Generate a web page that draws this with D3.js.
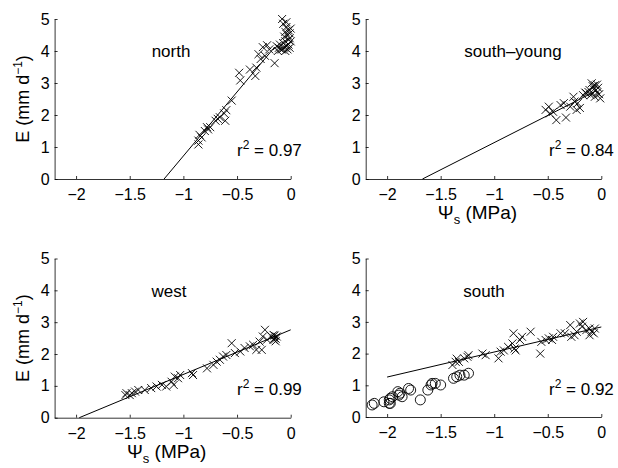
<!DOCTYPE html>
<html>
<head>
<meta charset="utf-8">
<script src="https://cdn.jsdelivr.net/npm/d3@7"></script>
<style>
  body { margin: 0; background: #fff; }
  text { font-family: "Liberation Sans", Arial, Helvetica, sans-serif; fill: #000; }
</style>
</head>
<body>
<svg id="chart" width="618" height="468"></svg>
<script>
// values: [psi_s (MPa), E (mm/d)]
const xTicks = [-2, -1.5, -1, -0.5, 0];
const yTicks = [0, 1, 2, 3, 4, 5];

const northPts = [[-0.86,1.08],[-0.86,1.20],[-0.85,1.38],[-0.83,1.30],[-0.80,1.50],[-0.78,1.62],
  [-0.77,1.55],[-0.75,1.62],[-0.70,1.82],[-0.68,1.88],[-0.66,1.93],[-0.62,2.05],[-0.61,1.82],
  [-0.60,2.15],[-0.55,2.45],[-0.48,3.32],[-0.47,3.08],[-0.38,3.42],[-0.33,3.22],[-0.32,3.48],
  [-0.30,3.90],[-0.28,3.75],[-0.26,4.12],[-0.24,3.85],[-0.22,4.18],[-0.20,4.05],[-0.15,3.62],
  [-0.13,4.15],[-0.11,4.10],[-0.10,4.20],[-0.09,4.05],[-0.08,5.00],[-0.07,4.85],[-0.07,4.25],
  [-0.06,4.10],[-0.06,4.45],[-0.05,4.60],[-0.05,4.30],[-0.04,4.75],[-0.04,4.15],[-0.03,4.50],
  [-0.03,4.05],[-0.02,4.65],[-0.02,4.35],[-0.02,4.20],[-0.01,4.55],[-0.01,4.40],[-0.01,4.10],
  [0.00,4.70],[0.00,4.30],[-0.05,4.00],[-0.08,4.05],[-0.12,4.00],[-0.04,4.90]];
const northFit = [[-1.18,0],[-0.15,4.12]];

const youngPts = [[-0.52,2.16],[-0.48,2.05],[-0.49,2.26],[-0.45,2.10],[-0.42,1.84],[-0.33,1.92],
  [-0.38,2.31],[-0.35,2.37],[-0.29,2.26],[-0.26,2.57],[-0.25,2.42],[-0.23,2.16],[-0.22,2.37],
  [-0.20,2.22],[-0.17,2.62],[-0.14,2.68],[-0.11,2.78],[-0.09,2.99],[-0.08,2.90],[-0.06,2.57],
  [-0.05,2.78],[-0.04,2.70],[-0.01,2.52],[-0.06,2.93],[-0.10,2.62],[-0.07,2.80],[-0.03,2.85],
  [-0.02,2.65],[-0.12,2.72],[-0.04,2.95],[-0.08,2.68],[-0.15,2.70]];
const youngFit = [[-1.67,0],[-0.05,2.75]];

const westPts = [[-1.54,0.71],[-1.53,0.77],[-1.50,0.71],[-1.48,0.77],[-1.45,0.82],[-1.42,0.87],
  [-1.36,0.87],[-1.30,0.93],[-1.25,0.98],[-1.20,1.03],[-1.16,0.98],[-1.11,1.13],[-1.09,1.03],
  [-1.08,1.29],[-1.05,1.24],[-1.03,1.34],[-0.92,1.40],[-0.91,1.34],[-0.78,1.55],[-0.72,1.66],
  [-0.69,1.76],[-0.66,1.82],[-0.63,1.92],[-0.60,1.97],[-0.55,2.34],[-0.52,2.03],[-0.47,2.08],
  [-0.43,2.19],[-0.38,2.24],[-0.35,2.29],[-0.32,2.13],[-0.29,2.39],[-0.27,2.13],[-0.26,2.55],
  [-0.24,2.76],[-0.22,2.45],[-0.18,2.55],[-0.16,2.60],[-0.15,2.50],[-0.16,2.45],[-0.14,2.40],
  [-0.13,2.55],[-0.15,2.58],[-0.14,2.48]];
const westFit = [[-1.97,0],[0,2.76]];

const southPts = [[-1.39,1.64],[-1.36,1.74],[-1.33,1.74],[-1.35,1.84],[-1.28,1.85],[-1.25,1.90],
  [-1.24,1.95],[-1.11,2.00],[-1.08,1.95],[-0.96,1.85],[-0.94,2.06],[-0.91,2.10],[-0.87,2.21],
  [-0.83,2.32],[-0.82,2.64],[-0.81,2.16],[-0.80,2.10],[-0.76,2.43],[-0.74,2.53],[-0.66,2.69],
  [-0.57,2.00],[-0.56,2.37],[-0.52,2.43],[-0.49,2.48],[-0.46,2.43],[-0.45,2.53],[-0.38,2.64],
  [-0.34,2.64],[-0.29,2.90],[-0.28,2.53],[-0.25,2.58],[-0.23,2.69],[-0.20,2.95],[-0.18,2.85],
  [-0.17,3.00],[-0.14,2.74],[-0.11,2.79],[-0.09,2.69],[-0.07,2.64],[-0.11,2.58],[-0.06,2.79]];
const southOldPts = [[-2.14,0.38],[-2.12,0.43],[-2.03,0.48],[-1.98,0.43],[-1.97,0.59],[-1.97,0.43],
  [-1.95,0.64],[-1.98,0.54],[-1.90,0.80],[-1.89,0.69],[-1.88,0.75],[-1.86,0.64],[-1.80,0.90],
  [-1.78,0.85],[-1.69,0.54],[-1.62,0.85],[-1.59,1.01],[-1.58,1.06],[-1.55,1.06],[-1.50,1.01],
  [-1.38,1.22],[-1.35,1.27],[-1.32,1.32],[-1.28,1.32],[-1.24,1.38]];
const southFit = [[-2.0,1.26],[0,2.84]];

const panels = [
  { title: "north", pts: northPts, circ: [], fit: northFit, r2: "0.97",
    left: 54.6, right: 290.7, top: 19, bottom: 179, tx: 171, ty: 57, rx: 237, ry: 156, ylab: true, xlab: false },
  { title: "south\u2013young", pts: youngPts, circ: [], fit: youngFit, r2: "0.84",
    left: 365.7, right: 601.3, top: 19, bottom: 179, tx: 513, ty: 57, rx: 549, ry: 156, ylab: false, xlab: true },
  { title: "west", pts: westPts, circ: [], fit: westFit, r2: "0.99",
    left: 54.6, right: 290.7, top: 258.5, bottom: 417.7, tx: 169, ty: 297, rx: 237, ry: 395, ylab: true, xlab: true },
  { title: "south", pts: southPts, circ: southOldPts, fit: southFit, r2: "0.92",
    left: 365.7, right: 601.3, top: 258.5, bottom: 417, tx: 484, ty: 297, rx: 549, ry: 395, ylab: false, xlab: false }
];

const svg = d3.select("#chart");

panels.forEach(function(p) {
  const x = d3.scaleLinear().domain([-2.2, 0]).range([p.left, p.right]);
  const y = d3.scaleLinear().domain([0, 5]).range([p.bottom, p.top]);
  const g = svg.append("g");

  // axes, ticks pointing inward like matlab
  const xa = g.append("g").attr("transform", "translate(0," + p.bottom + ")")
    .call(d3.axisBottom(x).tickValues(xTicks).tickFormat(d3.format("")).tickSizeInner(-3).tickSizeOuter(0).tickPadding(10));
  const ya = g.append("g").attr("transform", "translate(" + p.left + ",0)")
    .call(d3.axisLeft(y).tickValues(yTicks).tickFormat(d3.format("")).tickSizeInner(-3).tickSizeOuter(0).tickPadding(5));
  [xa, ya].forEach(function(a) {
    a.selectAll("text").style("font-size", "16px").attr("fill", "#000");
    a.selectAll("path,line").attr("stroke", "#000").attr("stroke-width", 0.8);
  });

  // fitted line
  g.append("path")
    .attr("d", d3.line().x(d => x(d[0])).y(d => y(d[1]))(p.fit))
    .attr("fill", "none").attr("stroke", "#000").attr("stroke-width", 1);

  // x markers
  const s = 4;
  g.selectAll(".xm").data(p.pts).enter().append("path")
    .attr("class", "xm")
    .attr("d", function(d) {
      const cx = x(d[0]), cy = y(d[1]);
      return "M" + (cx - s) + "," + (cy - s) + "L" + (cx + s) + "," + (cy + s) +
             "M" + (cx - s) + "," + (cy + s) + "L" + (cx + s) + "," + (cy - s);
    })
    .attr("stroke", "#000").attr("stroke-width", 0.9);

  // open circles
  g.selectAll(".om").data(p.circ).enter().append("circle")
    .attr("class", "om")
    .attr("cx", d => x(d[0])).attr("cy", d => y(d[1])).attr("r", 5)
    .attr("fill", "none").attr("stroke", "#000").attr("stroke-width", 0.9);

  g.append("text").attr("x", p.tx).attr("y", p.ty).attr("text-anchor", "middle")
    .style("font-size", "17px").text(p.title);

  const rt = g.append("text").attr("x", p.rx).attr("y", p.ry).style("font-size", "17px");
  rt.append("tspan").text("r");
  rt.append("tspan").attr("dy", -7).style("font-size", "12px").text("2");
  rt.append("tspan").attr("dy", 7).text(" = " + p.r2);

  if (p.ylab) {
    const yt = g.append("text")
      .attr("transform", "translate(29," + ((p.top + p.bottom) / 2) + ") rotate(-90)")
      .attr("text-anchor", "middle").style("font-size", "18px");
    yt.append("tspan").text("E (mm d");
    yt.append("tspan").attr("dy", -7).style("font-size", "12px").text("\u22121");
    yt.append("tspan").attr("dy", 7).text(")");
  }
  if (p.xlab) {
    const xt = g.append("text")
      .attr("x", (p.left + p.right) / 2 - 6).attr("y", p.bottom + 40)
      .attr("text-anchor", "middle").style("font-size", "19px");
    xt.append("tspan").text("\u03A8");
    xt.append("tspan").attr("dy", 5).style("font-size", "13px").text("s");
    xt.append("tspan").attr("dy", -5).text(" (MPa)");
  }
});
</script>
</body>
</html>
